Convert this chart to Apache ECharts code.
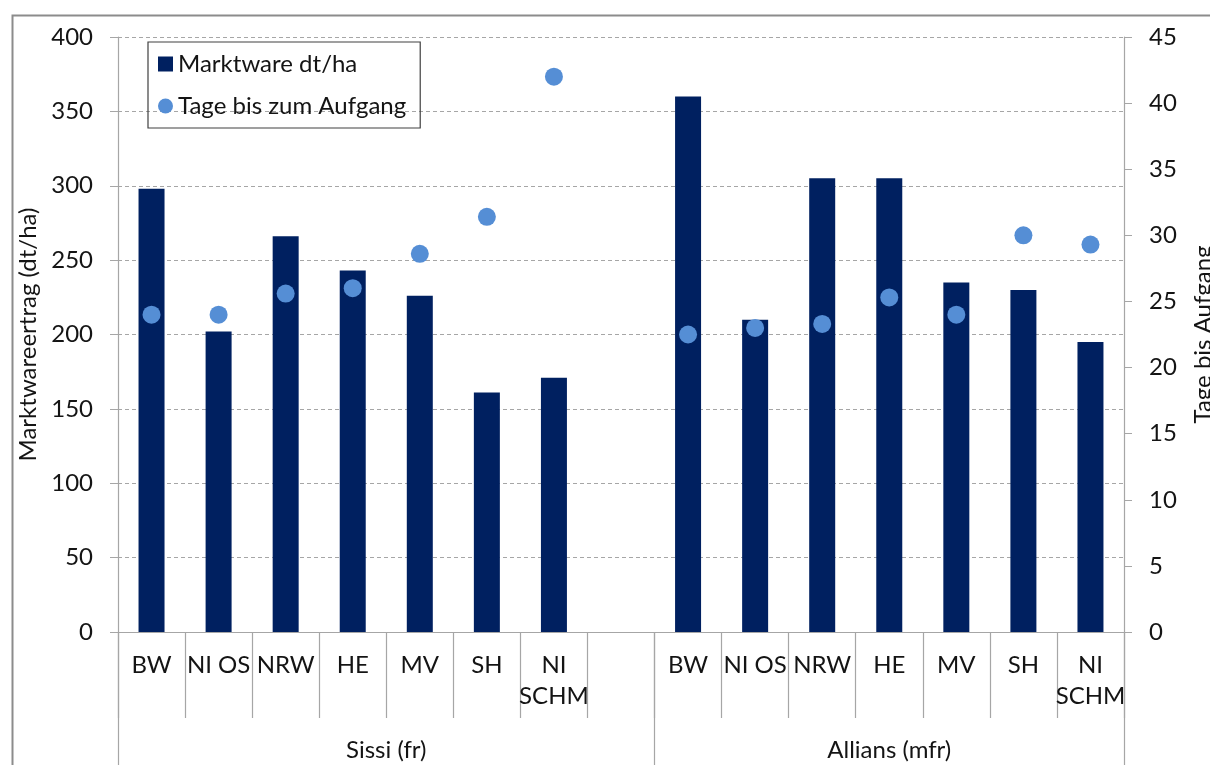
<!DOCTYPE html>
<html>
<head>
<meta charset="utf-8">
<script src="https://cdn.jsdelivr.net/npm/echarts@6/dist/echarts.min.js"></script>
<style>
html,body{margin:0;padding:0;background:#fff;}
#chart{width:1210px;height:765px;}
</style>
</head>
<body>
<div id="chart"></div>
<script>
// ---- data ----
const regions = ['BW', 'NI OS', 'NRW', 'HE', 'MV', 'SH', 'NI SCHM'];
const groups = ['Sissi (fr)', 'Allians (mfr)'];
const sissiYield = [298, 202, 266, 243, 226, 161, 171];
const alliansYield = [360, 210, 305, 305, 235, 230, 195];
const sissiDays = [24, 24, 25.6, 26, 28.6, 31.4, 42];
const alliansDays = [22.5, 23, 23.3, 25.3, 24, 30, 29.3];
const yieldTicks = { min: 0, max: 400, interval: 50 };
const daysTicks = { min: 0, max: 45, interval: 5 };
const seriesNames = ['Marktware dt/ha', 'Tage bis zum Aufgang'];
const axisNames = ['Marktwareertrag (dt/ha)', 'Tage bis Aufgang'];

// ---- build ----
const categories = [...regions, '', ...regions];
const yieldData = [...sissiYield, null, ...alliansYield];
const daysData = [...sissiDays, null, ...alliansDays];
const groupSizes = [regions.length + 1, regions.length];
const total = categories.length;
const groupBounds = [0, groupSizes[0], groupSizes[0] + groupSizes[1]];
const groupCenters = [(groupBounds[0] + groupBounds[1]) / 2, (groupBounds[1] + groupBounds[2]) / 2];

const FONT = 'Lato';
const FS = 24;
const TXT = '#141414';
const GREY = '#a6a6a6';

const chart = echarts.init(document.getElementById('chart'));
chart.setOption({
  animation: false,
  backgroundColor: '#fff',
  textStyle: { fontFamily: FONT, color: TXT },
  graphic: [{
    type: 'rect', left: 10, top: 13, shape: { width: 1400, height: 900 },
    style: { fill: 'none', stroke: '#8c8c8c', lineWidth: 2 }, silent: true
  }],
  grid: { left: 118, right: 86, top: 37, bottom: 133, containLabel: false, outerBoundsMode: 'none' },
  legend: {
    orient: 'vertical', left: 148, top: 42,
    padding: [8, 14, 8, 10],
    borderColor: '#404040', borderWidth: 1.2,
    itemWidth: 15, itemHeight: 15, itemGap: 14,
    textStyle: { fontFamily: FONT, fontSize: FS, color: TXT, lineHeight: 28 },
    data: [{ name: seriesNames[0], icon: 'rect' }, { name: seriesNames[1], icon: 'circle' }]
  },
  xAxis: [{
    type: 'category', data: categories, boundaryGap: true,
    axisLine: { show: true, lineStyle: { color: GREY, width: 1.2 } },
    axisTick: { show: true, interval: 0, length: 86, lineStyle: { color: GREY, width: 1.2 } },
    axisLabel: {
      interval: 0, margin: 18, fontSize: FS, lineHeight: 31, color: TXT, fontFamily: FONT,
      formatter: v => v.replace(' SCHM', '\nSCHM')
    },
    splitLine: { show: false }
  }, {
    type: 'value', min: 0, max: total, position: 'bottom',
    axisLine: { show: false },
    axisTick: { show: true, customValues: groupBounds, length: 140, lineStyle: { color: GREY, width: 1.2 } },
    axisLabel: {
      show: true, customValues: groupCenters, margin: 103, fontSize: FS, lineHeight: 30, color: TXT, fontFamily: FONT,
      formatter: v => { const i = groupCenters.indexOf(v); return i >= 0 ? groups[i] : ''; }
    },
    splitLine: { show: false }
  }],
  yAxis: [{
    type: 'value', ...yieldTicks, position: 'left',
    name: axisNames[0], nameLocation: 'middle', nameRotate: 90, nameGap: 62,
    nameTextStyle: { fontSize: FS, color: TXT, fontFamily: FONT },
    axisLine: { show: true, lineStyle: { color: GREY, width: 1.2 } },
    axisTick: { show: true, length: 8, lineStyle: { color: GREY } },
    axisLabel: { margin: 25, fontSize: FS, color: TXT, fontFamily: FONT },
    splitLine: { show: true, lineStyle: { color: GREY, type: [4, 3], width: 1 } }
  }, {
    type: 'value', ...daysTicks, position: 'right',
    name: axisNames[1], nameLocation: 'middle', nameRotate: 90, nameGap: 67,
    nameTextStyle: { fontSize: FS, color: TXT, fontFamily: FONT },
    axisLine: { show: true, lineStyle: { color: GREY, width: 1.2 } },
    axisTick: { show: true, length: 8, lineStyle: { color: GREY } },
    axisLabel: { margin: 25, fontSize: FS, color: TXT, fontFamily: FONT },
    splitLine: { show: false }
  }],
  series: [{
    name: seriesNames[0], type: 'bar', xAxisIndex: 0, yAxisIndex: 0,
    data: yieldData, barWidth: 26,
    itemStyle: { color: '#002060' }
  }, {
    name: seriesNames[1], type: 'scatter', xAxisIndex: 0, yAxisIndex: 1,
    data: daysData, symbol: 'circle', symbolSize: 18,
    itemStyle: { color: '#558ed5', opacity: 1 }
  }]
});
</script>
</body>
</html>
